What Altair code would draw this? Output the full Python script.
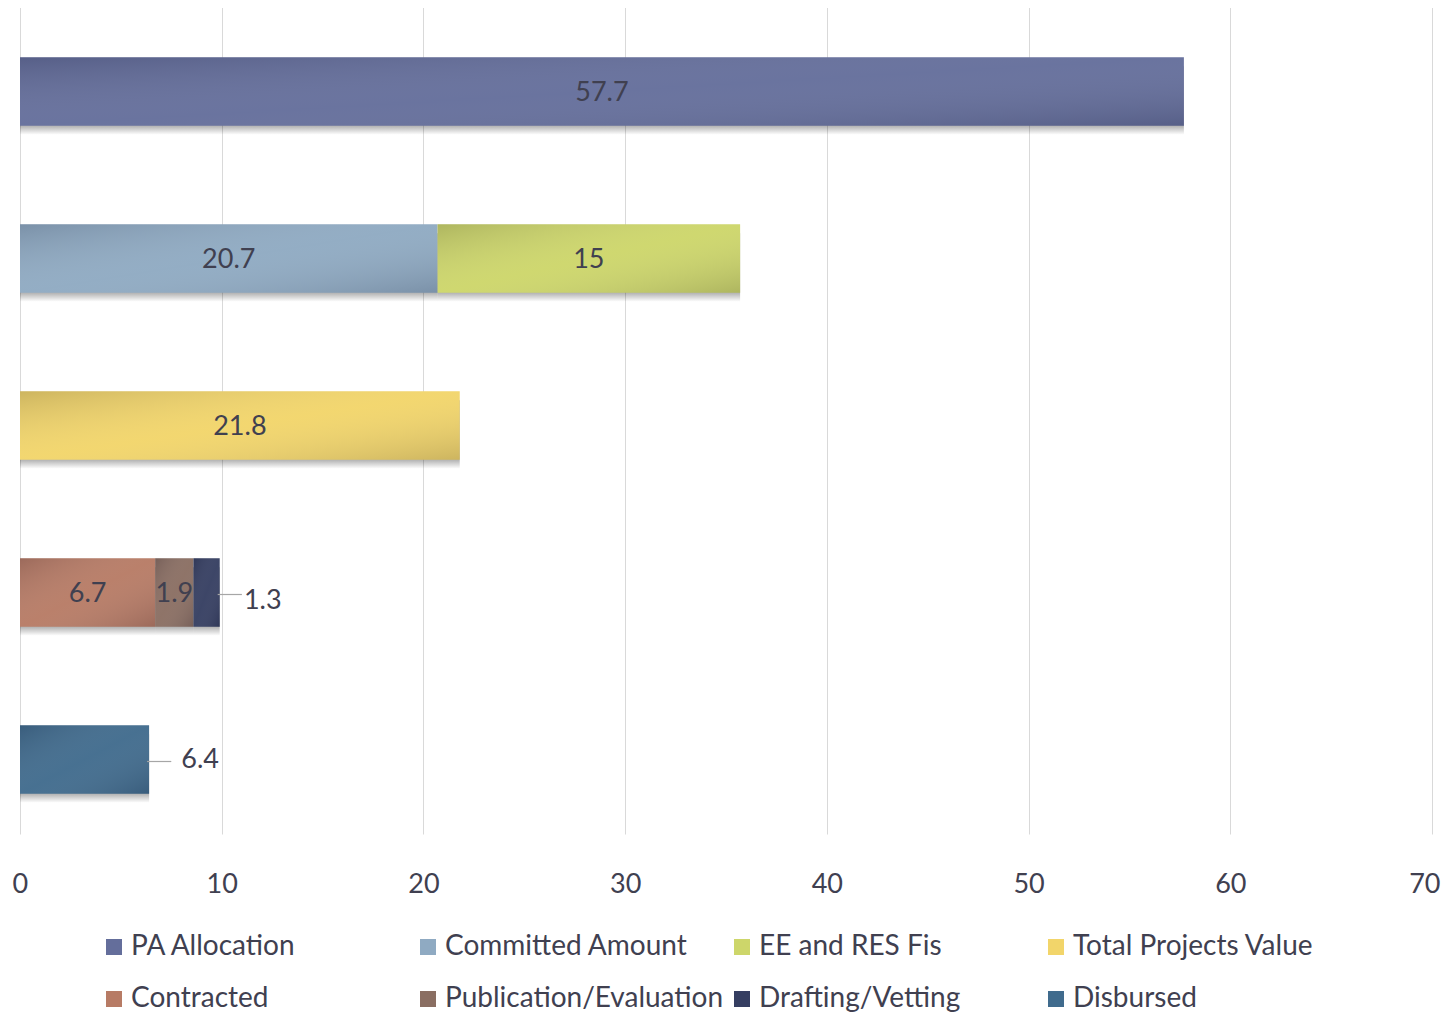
import altair as alt
import pandas as pd

series = ["PA Allocation", "Committed Amount", "EE and RES Fis", "Total Projects Value",
          "Contracted", "Publication/Evaluation", "Drafting/Vetting", "Disbursed"]
values = [57.7, 20.7, 15, 21.8, 6.7, 1.9, 1.3, 6.4]
rows = ["r1", "r2", "r2", "r3", "r4", "r4", "r4", "r5"]
row_order = ["r1", "r2", "r3", "r4", "r5"]
colors = ["#646e9b", "#8faac2", "#cdd66a", "#f2d56a", "#b77b65", "#8a6e62", "#353e61", "#406b8d"]
outside = ["Drafting/Vetting", "Disbursed"]
x_ticks = [0, 10, 20, 30, 40, 50, 60, 70]

df = pd.DataFrame({"series": series, "value": values, "row": rows})
df["end"] = df.groupby("row")["value"].cumsum()
df["start"] = df["end"] - df["value"]
df["mid"] = (df["start"] + df["end"]) / 2
df["label"] = df["value"].map(lambda v: f"{v:g}")
df["outside"] = df["series"].isin(outside)

FONT = "Lato"
TXT = "#404050"
H = 835
W = 1412

def y_enc(shift=0):
    return alt.Y("row:N", sort=row_order, axis=None,
                 scale=alt.Scale(domain=row_order, paddingInner=0.59, paddingOuter=0.295,
                                 range=[shift, H + shift]))

x_scale = alt.Scale(domain=[0, 70], nice=False, range=[0, W])
x_axis = alt.Axis(values=x_ticks, grid=True, gridColor="#d9d9d9", domain=False,
                  ticks=False, labelFontSize=27, labelColor=TXT, labelFont=FONT,
                  labelPadding=28, labelFlush=True, labelFlushOffset=8)

base = alt.Chart(df)

shadow = base.mark_bar(
    fill=alt.Gradient(gradient="linear", x1=0, y1=0, x2=0, y2=1,
                      stops=[alt.GradientStop(offset=0, color="rgba(0,0,0,0.32)"),
                             alt.GradientStop(offset=0.87, color="rgba(0,0,0,0.3)"),
                             alt.GradientStop(offset=1, color="rgba(0,0,0,0)")])
).encode(x=alt.X("start:Q", scale=x_scale, title=None, axis=x_axis), x2="end:Q", y=y_enc(9))

bars = base.mark_bar(stroke=None).encode(
    x=alt.X("start:Q", scale=x_scale, title=None, axis=x_axis),
    x2="end:Q",
    y=y_enc(),
    color=alt.Color("series:N", sort=series,
                    scale=alt.Scale(domain=series, range=colors),
                    legend=alt.Legend(title=None, orient="none", legendX=80, legendY=925,
                                      columns=4, gridAlign="all", direction="horizontal",
                                      symbolType="square", symbolSize=256, symbolStrokeWidth=0,
                                      labelFontSize=28, labelFont=FONT, labelColor=TXT,
                                      labelLimit=500, labelOffset=3, rowPadding=24,
                                      columnPadding=4)),
)

shade = base.mark_bar(
    fill=alt.Gradient(gradient="linear", x1=0, y1=0, x2=1, y2=1,
                      stops=[alt.GradientStop(offset=0, color="rgba(20,20,40,0.17)"),
                             alt.GradientStop(offset=0.5, color="rgba(255,255,255,0.04)"),
                             alt.GradientStop(offset=1, color="rgba(20,20,40,0.17)")])
).encode(x="start:Q", x2="end:Q", y=y_enc())

inside_text = base.transform_filter("!datum.outside").mark_text(
    fontSize=27, font=FONT, color=TXT, align="center", baseline="middle", dy=1
).encode(x="mid:Q", y=y_enc(), text="label:N")

out_calc = base.transform_filter("datum.outside").transform_calculate(tx="datum.end + 1.4")

out_text_a = out_calc.transform_filter(alt.datum.series == outside[0]).mark_text(
    fontSize=27, font=FONT, color=TXT, align="left", baseline="middle", dy=8, dx=-4
).encode(x="tx:Q", y=y_enc(), text="label:N")

out_text_b = out_calc.transform_filter(alt.datum.series == outside[1]).mark_text(
    fontSize=27, font=FONT, color=TXT, align="left", baseline="middle", dy=0, dx=4
).encode(x="tx:Q", y=y_enc(), text="label:N")

leaders = base.transform_filter("datum.outside").transform_calculate(
    lx1="datum.end - 0.1", lx2="datum.end + 1.1"
).mark_rule(color="#a6a6a6", strokeWidth=1.2).encode(x="lx1:Q", x2="lx2:Q", y=y_enc(2))

chart = alt.layer(shadow, bars, shade, leaders, inside_text, out_text_a, out_text_b).resolve_scale(
    y="independent"
).properties(
    width=W, height=H,
    autosize=alt.AutoSizeParams(type="none"),
    padding={"left": 12, "top": 0, "right": 14, "bottom": 172},
).configure_view(stroke=None)

chart.save("out.html", embed_options={"renderer": "svg", "actions": False})
